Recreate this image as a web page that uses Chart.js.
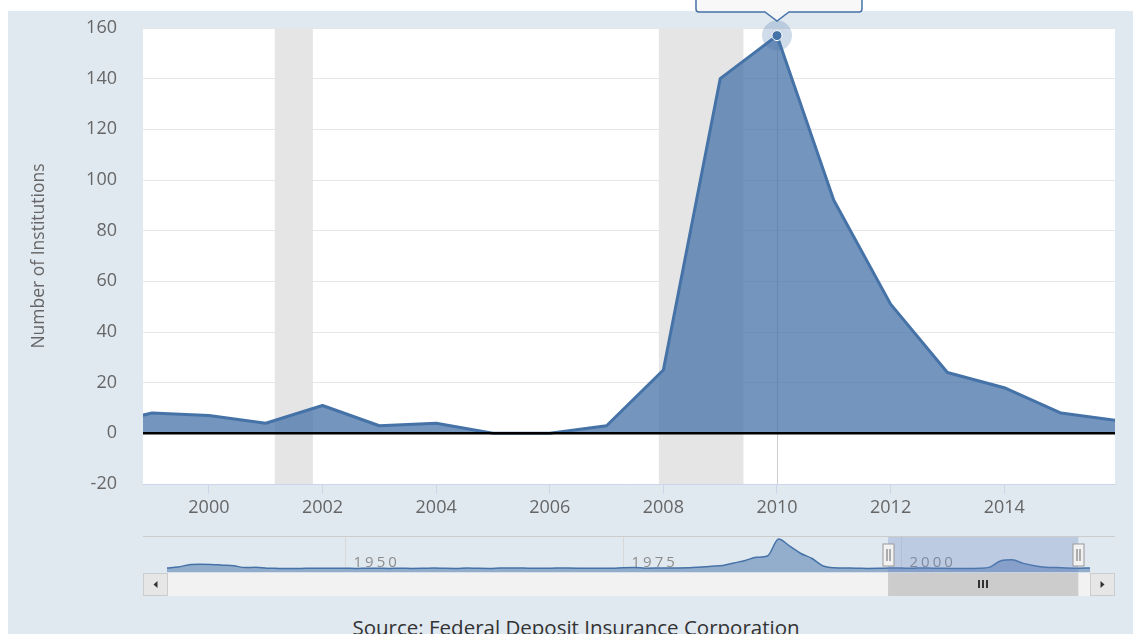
<!DOCTYPE html>
<html>
<head>
<meta charset="utf-8">
<title>Bank failures</title>
<script src="https://cdn.jsdelivr.net/npm/chart.js@4.4.0/dist/chart.umd.min.js"></script>
<style>
  html, body { margin: 0; padding: 0; background: #fff; overflow: hidden; }
  body { width: 1133px; height: 634px; position: relative; font-family: 'Open Sans', sans-serif; }
  #panel { position: absolute; left: 8px; top: 11px; width: 1125px; height: 623px; background: #e1e9f0; }
  #main { position: absolute; left: 0; top: 0; }
  #nav { position: absolute; left: 143px; top: 530px; }
  #source { position: absolute; left: 0; width: 1152px; top: 613px; text-align: center;
            font-size: 20.5px; line-height: 28px; color: #333; white-space: nowrap; }
</style>
</head>
<body>
<div id="panel"></div>
<canvas id="main" width="1133" height="530"></canvas>
<canvas id="nav" width="972" height="70"></canvas>
<div id="source">Source: Federal Deposit Insurance Corporation</div>
<script>
// --- data ---
const years = [1998, 1999, 2000, 2001, 2002, 2003, 2004, 2005, 2006, 2007,
               2008, 2009, 2010, 2011, 2012, 2013, 2014, 2015, 2016, 2017];
const failures = [3, 8, 7, 4, 11, 3, 4, 0, 0, 3,
                  25, 140, 157, 92, 51, 24, 18, 8, 5, 8];
const xTicks = [2000, 2002, 2004, 2006, 2008, 2010, 2012, 2014];
const yTicks = [-20, 0, 20, 40, 60, 80, 100, 120, 140, 160];
const viewRange = [1998.84, 2015.95];
// recessions (start, end as fractional years)
const recessions = [[2001.16, 2001.83], [2007.92, 2009.41]];
const hoverYear = 2010;

// navigator: whole history, 1934 -> 2017
const navStart = 1934;
const navValues = [10, 26, 69, 77, 74, 60, 48, 17, 23, 5,      // 1934-1943
                   2, 1, 1, 5, 3, 5, 4, 2, 3, 4,               // 1944-1953
                   2, 5, 2, 3, 9, 3, 1, 9, 3, 2,               // 1954-1963
                   8, 9, 8, 4, 3, 9, 8, 6, 3, 6,               // 1964-1973
                   4, 14, 17, 6, 7, 10, 10, 12, 27, 40,        // 1974-1983
                   55, 100, 145, 200, 225, 530, 400, 270, 180, 45, // 1984-1993
                   13, 8, 6, 1, 3, 8, 7, 4, 11, 3,             // 1994-2003
                   4, 0, 0, 3, 25, 140, 157, 92, 51, 24,       // 2004-2013
                   18, 8, 5, 8];                               // 2014-2017
const navYears = navValues.map((_, i) => navStart + i);
const navTicks = [1950, 1975, 2000];

const LINE = '#4572a7';
const FONT = "'Open Sans', sans-serif";

// --- main chart decorations ---
const mainDecor = {
    id: 'mainDecor',
    beforeDraw(chart) {
        const { ctx, chartArea: a } = chart;
        ctx.save();
        ctx.fillStyle = '#ffffff';
        ctx.fillRect(a.left, a.top, a.right - a.left, a.bottom - a.top);
        ctx.restore();
    },
    beforeDatasetsDraw(chart) {
        const { ctx, chartArea: a, scales: { x, y } } = chart;
        ctx.save();
        ctx.beginPath();
        ctx.rect(a.left, a.top, a.right - a.left, a.bottom - a.top);
        ctx.clip();
        // recession shading
        ctx.fillStyle = '#e5e5e5';
        recessions.forEach(([s, e]) => {
            const x0 = x.getPixelForValue(s), x1 = x.getPixelForValue(e);
            ctx.fillRect(x0, a.top, x1 - x0, a.bottom - a.top);
        });
        // crosshair
        const hv = failures[years.indexOf(hoverYear)];
        const hx = Math.round(x.getPixelForValue(hoverYear)) + 0.5;
        ctx.strokeStyle = '#cccccc';
        ctx.lineWidth = 1;
        ctx.beginPath();
        ctx.moveTo(hx, y.getPixelForValue(hv));
        ctx.lineTo(hx, a.bottom);
        ctx.stroke();
        ctx.restore();
    },
    afterDatasetsDraw(chart) {
        const { ctx, chartArea: a, scales: { x, y } } = chart;
        ctx.save();
        // zero line
        const zy = y.getPixelForValue(0);
        ctx.strokeStyle = '#000';
        ctx.lineWidth = 2.5;
        ctx.beginPath();
        ctx.moveTo(a.left, zy);
        ctx.lineTo(a.right, zy);
        ctx.stroke();

        // hover halo + marker
        const hv = failures[years.indexOf(hoverYear)];
        const hx = x.getPixelForValue(hoverYear), hy = y.getPixelForValue(hv);
        ctx.fillStyle = 'rgba(69,114,167,0.25)';
        ctx.beginPath();
        ctx.arc(hx, hy, 15, 0, Math.PI * 2);
        ctx.fill();
        ctx.fillStyle = LINE;
        ctx.strokeStyle = '#fff';
        ctx.lineWidth = 1;
        ctx.beginPath();
        ctx.arc(hx, hy, 5, 0, Math.PI * 2);
        ctx.fill();
        ctx.stroke();

        // tooltip (mostly above the visible area)
        const bl = hx - 81, br = hx + 85, bb = 12, bt = -30, r = 3;
        ctx.beginPath();
        ctx.moveTo(bl + r, bt);
        ctx.lineTo(br - r, bt);
        ctx.quadraticCurveTo(br, bt, br, bt + r);
        ctx.lineTo(br, bb - r);
        ctx.quadraticCurveTo(br, bb, br - r, bb);
        ctx.lineTo(hx + 12, bb);
        ctx.lineTo(hx, bb + 9);
        ctx.lineTo(hx - 12, bb);
        ctx.lineTo(bl + r, bb);
        ctx.quadraticCurveTo(bl, bb, bl, bb - r);
        ctx.lineTo(bl, bt + r);
        ctx.quadraticCurveTo(bl, bt, bl + r, bt);
        ctx.closePath();
        ctx.fillStyle = 'rgba(247,247,247,0.85)';
        ctx.fill();
        ctx.strokeStyle = LINE;
        ctx.lineWidth = 1.5;
        ctx.stroke();
        ctx.restore();
    }
};

const mainChart = new Chart(document.getElementById('main'), {
    type: 'line',
    data: {
        datasets: [{
            data: years.map((yr, i) => ({ x: yr, y: failures[i] })),
            borderColor: LINE,
            borderWidth: 3,
            borderJoinStyle: 'round',
            backgroundColor: 'rgba(69,114,167,0.75)',
            fill: 'origin',
            pointRadius: 0,
            tension: 0
        }]
    },
    options: {
        responsive: false,
        animation: false,
        events: [],
        layout: { padding: { top: 28, right: 18, left: 0, bottom: 0 } },
        plugins: { legend: { display: false }, tooltip: { enabled: false } },
        scales: {
            x: {
                type: 'linear',
                min: viewRange[0],
                max: viewRange[1],
                afterBuildTicks: s => { s.ticks = xTicks.map(v => ({ value: v })); },
                afterFit: s => { s.height = 46; s.paddingLeft = 0; s.paddingRight = 0; },
                grid: { drawOnChartArea: false, drawTicks: true, tickLength: 10, color: '#ccd6eb' },
                border: { display: true, color: '#ccd6eb', width: 1 },
                ticks: {
                    callback: v => String(v),
                    color: '#666', padding: 3,
                    font: { family: FONT, size: 18 },
                    maxRotation: 0, autoSkip: false
                }
            },
            y: {
                min: -20,
                max: 160,
                afterBuildTicks: s => { s.ticks = yTicks.map(v => ({ value: v })); },
                afterFit: s => { s.width = 143; s.paddingTop = 0; s.paddingBottom = 0; },
                grid: { color: '#e6e6e6', drawTicks: false },
                border: { display: false },
                ticks: {
                    color: '#666', padding: 26,
                    font: { family: FONT, size: 18 }
                },
                title: {
                    display: true,
                    text: 'Number of Institutions',
                    color: '#666',
                    font: { family: FONT, size: 17.5 },
                    padding: { top: 29, bottom: 0 }
                }
            }
        }
    },
    plugins: [mainDecor]
});

// --- navigator decorations ---
const navDecor = {
    id: 'navDecor',
    beforeDatasetsDraw(chart) {
        const { ctx, chartArea: a, scales: { x } } = chart;
        ctx.save();
        // outline along the top
        ctx.strokeStyle = '#cccccc';
        ctx.lineWidth = 1;
        ctx.beginPath();
        ctx.moveTo(0, a.top - 0.5);
        ctx.lineTo(chart.width, a.top - 0.5);
        ctx.stroke();
        // ticks + labels
        ctx.font = '15px ' + FONT;
        ctx.letterSpacing = '3px';
        ctx.fillStyle = '#8c8c8c';
        ctx.textBaseline = 'alphabetic';
        navTicks.forEach(t => {
            const px = Math.round(x.getPixelForValue(t)) + 0.5;
            ctx.strokeStyle = '#d8d8d8';
            ctx.beginPath();
            ctx.moveTo(px, a.top);
            ctx.lineTo(px, a.top + 33);
            ctx.stroke();
            ctx.fillText(String(t), px + 8, a.top + 30);
        });
        ctx.restore();
    },
    afterDatasetsDraw(chart) {
        const { ctx, chartArea: a, scales: { x } } = chart;
        const m0 = x.getPixelForValue(viewRange[0]), m1 = x.getPixelForValue(viewRange[1]);
        ctx.save();
        // selection mask
        ctx.fillStyle = 'rgba(102,133,194,0.3)';
        ctx.fillRect(m0, a.top, m1 - m0, a.bottom - a.top);
        // handles
        [m0, m1].forEach(h => {
            const hx = Math.round(h) + 0.5;
            ctx.fillStyle = '#f2f2f2';
            ctx.strokeStyle = '#999';
            ctx.lineWidth = 1;
            ctx.fillRect(hx - 5.5, a.top + 7, 11, 22);
            ctx.strokeRect(hx - 5.5, a.top + 7, 11, 22);
            ctx.strokeStyle = '#666';
            ctx.beginPath();
            ctx.moveTo(hx - 1.5, a.top + 12); ctx.lineTo(hx - 1.5, a.top + 24);
            ctx.moveTo(hx + 1.5, a.top + 12); ctx.lineTo(hx + 1.5, a.top + 24);
            ctx.stroke();
        });
        // scrollbar
        const sy = 43, sh = 23, W = chart.width;
        ctx.fillStyle = '#f2f2f2';
        ctx.fillRect(a.left, sy, a.right - a.left, sh);
        ctx.fillStyle = '#cccccc';
        ctx.fillRect(m0, sy, m1 - m0, sh);
        // grip
        const gx = Math.round((m0 + m1) / 2);
        ctx.fillStyle = '#333';
        [-4, 0, 4].forEach(d => ctx.fillRect(gx + d - 1, sy + 7, 2, 8));
        // arrow buttons
        [[0, -1], [W - 25, 1]].forEach(([bx, dir]) => {
            ctx.fillStyle = '#e6e6e6';
            ctx.strokeStyle = '#cccccc';
            ctx.fillRect(bx + 0.5, sy + 0.5, 24, sh - 1);
            ctx.strokeRect(bx + 0.5, sy + 0.5, 24, sh - 1);
            const cx = bx + 12.5, cy = sy + sh / 2;
            ctx.fillStyle = '#333';
            ctx.beginPath();
            ctx.moveTo(cx + 2 * dir, cy);
            ctx.lineTo(cx - 2 * dir, cy - 3.5);
            ctx.lineTo(cx - 2 * dir, cy + 3.5);
            ctx.closePath();
            ctx.fill();
        });
        ctx.restore();
    }
};

const navChart = new Chart(document.getElementById('nav'), {
    type: 'line',
    data: {
        datasets: [{
            data: navYears.map((yr, i) => ({ x: yr, y: navValues[i] })),
            borderColor: LINE,
            borderWidth: 1.5,
            backgroundColor: 'rgba(69,114,167,0.5)',
            fill: 'start',
            pointRadius: 0,
            cubicInterpolationMode: 'monotone'
        }]
    },
    options: {
        responsive: false,
        animation: false,
        events: [],
        layout: { padding: { top: 7, bottom: 27.5, left: 24, right: 25 } },
        plugins: { legend: { display: false }, tooltip: { enabled: false } },
        scales: {
            x: { type: 'linear', display: false, min: navStart, max: 2017 },
            y: { display: false, min: -72, max: 566 }
        }
    },
    plugins: [navDecor]
});
</script>
</body>
</html>
